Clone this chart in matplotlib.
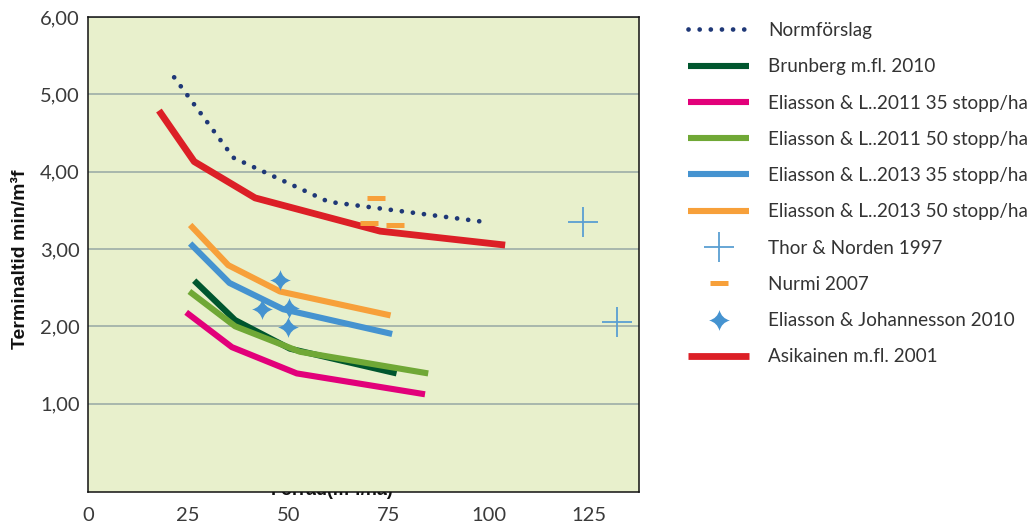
import matplotlib
matplotlib.use("Agg")
import matplotlib.pyplot as plt
from matplotlib.path import Path

# ---------------- data ----------------
norm_x = [21.5, 36.3, 60.0, 98.8]
norm_y = [5.22, 4.18, 3.61, 3.35]

brunberg_x = [26.5, 36.7, 50.4, 77.0]
brunberg_y = [2.59, 2.08, 1.71, 1.39]

el11_35_x = [24.5, 35.9, 52.1, 84.1]
el11_35_y = [2.18, 1.73, 1.39, 1.12]

el11_50_x = [25.3, 36.7, 52.9, 84.9]
el11_50_y = [2.45, 2.00, 1.67, 1.39]

el13_35_x = [25.5, 35.3, 48.7, 75.9]
el13_35_y = [3.07, 2.56, 2.22, 1.90]

el13_50_x = [25.5, 35.0, 47.9, 75.5]
el13_50_y = [3.31, 2.79, 2.45, 2.14]

thor_x = [123.5, 132.1]
thor_y = [3.35, 2.05]

nurmi_x = [71.9, 70.0, 76.7]
nurmi_y = [3.66, 3.34, 3.31]

ej_x = [47.9, 43.4, 50.2, 49.8]
ej_y = [2.60, 2.22, 2.24, 1.99]

asik_x = [17.7, 26.5, 41.7, 72.9, 104.1]
asik_y = [4.79, 4.13, 3.66, 3.23, 3.05]

x_ticks = [0, 25, 50, 75, 100, 125]
y_ticks = [1, 2, 3, 4, 5, 6]
y_ticklabels = ["1,00", "2,00", "3,00", "4,00", "5,00", "6,00"]

labels = ["Normförslag", "Brunberg m.fl. 2010", "Eliasson & L..2011 35 stopp/ha",
          "Eliasson & L..2011 50 stopp/ha", "Eliasson & L..2013 35 stopp/ha",
          "Eliasson & L..2013 50 stopp/ha", "Thor & Norden 1997", "Nurmi 2007",
          "Eliasson & Johannesson 2010", "Asikainen m.fl. 2001"]

# ---------------- style ----------------
FONT = "Lato"
plt.rcParams['font.family'] = [FONT, 'DejaVu Sans']

c_norm = "#1f3877"
c_brun = "#00562e"
c_pink = "#e2007a"
c_lgreen = "#70a836"
c_blue = "#4593d0"
c_orange = "#f7a03a"
c_red = "#dc1f26"
c_thor = "#5a9fd2"
bg = "#e8f0cc"
gridc = "#a3b3aa"

W, H = 1034, 522
fig = plt.figure(figsize=(W / 100, H / 100), dpi=100)
left, right, top, bottom = 88, 639, 17, 491.7
ax = fig.add_axes([left / W, 1 - bottom / H, (right - left) / W, (bottom - top) / H])
ax.set_facecolor(bg)

# concave four-point star
k = 0.2
verts = [(0, 1), (k, k), (1, 0), (k, -k), (0, -1), (-k, -k), (-1, 0), (-k, k), (0, 1), (0, 1)]
codes = [Path.MOVETO, Path.CURVE3, Path.CURVE3, Path.CURVE3, Path.CURVE3,
         Path.CURVE3, Path.CURVE3, Path.CURVE3, Path.CURVE3, Path.CLOSEPOLY]
star = Path(verts, codes)

lw = 4.4
h = []
h.append(ax.plot(norm_x, norm_y, color=c_norm, lw=3.4, linestyle=(0, (0.01, 2.35)),
                 dash_capstyle='round', solid_capstyle='round', zorder=5)[0])
h.append(ax.plot(brunberg_x, brunberg_y, color=c_brun, lw=lw, solid_capstyle='butt', zorder=4)[0])
h.append(ax.plot(el11_35_x, el11_35_y, color=c_pink, lw=lw, solid_capstyle='butt', zorder=4)[0])
h.append(ax.plot(el11_50_x, el11_50_y, color=c_lgreen, lw=lw, solid_capstyle='butt', zorder=4)[0])
h.append(ax.plot(el13_35_x, el13_35_y, color=c_blue, lw=lw, solid_capstyle='butt', zorder=4)[0])
h.append(ax.plot(el13_50_x, el13_50_y, color=c_orange, lw=lw, solid_capstyle='butt', zorder=4)[0])
h.append(ax.plot(thor_x, thor_y, linestyle='none', marker='+', markersize=22,
                 markeredgewidth=1.3, color=c_thor, zorder=5)[0])
h.append(ax.plot(nurmi_x, nurmi_y, linestyle='none', marker='_', markersize=12.5,
                 markeredgewidth=3.6, color=c_orange, zorder=5)[0])
h.append(ax.plot(ej_x, ej_y, linestyle='none', marker=star, markersize=15,
                 color=c_blue, markeredgewidth=0, zorder=6)[0])
h.append(ax.plot(asik_x, asik_y, color=c_red, lw=4.9, solid_capstyle='butt', zorder=4)[0])

ax.set_xlim(0, 137.5)
ax.set_ylim(-0.14, 6.0)
ax.set_xticks(x_ticks)
ax.set_xticklabels([str(v) for v in x_ticks])
ax.set_yticks(y_ticks)
ax.set_yticklabels(y_ticklabels)
ax.tick_params(axis='both', length=0, labelsize=14.5, labelcolor="#3a3a3a")
ax.tick_params(axis='x', pad=11)
ax.tick_params(axis='y', pad=6)
ax.grid(axis='y', color=gridc, lw=1.3, zorder=1)
ax.set_axisbelow(True)
for s in ax.spines.values():
    s.set_color("#111111")
    s.set_linewidth(1.1)

ax.set_ylabel("Terminaltid min/m³f", fontsize=14, fontweight='bold',
              family=['Liberation Sans', 'DejaVu Sans'], color="#111111")
ax.yaxis.set_label_coords((29 - left) / (right - left), (bottom - 259) / (bottom - top))

# x label partially hidden behind the plot area
fig.text(332 / W, 1 - 495 / H, "Förråd(m³f/ha)", fontsize=13, fontweight='bold',
         family=['Liberation Sans', 'DejaVu Sans'], ha='center', va='baseline',
         color="#111111", zorder=-1)

leg = fig.legend(h, labels, loc='upper left', bbox_to_anchor=(688 / W, 1 - 22 / H),
                 frameon=False, fontsize=13.6, handlelength=3.25, handletextpad=1.0,
                 labelspacing=1.02, borderpad=0, borderaxespad=0)
for t in leg.get_texts():
    t.set_color("#333333")

fig.savefig("out.png", dpi=100)
